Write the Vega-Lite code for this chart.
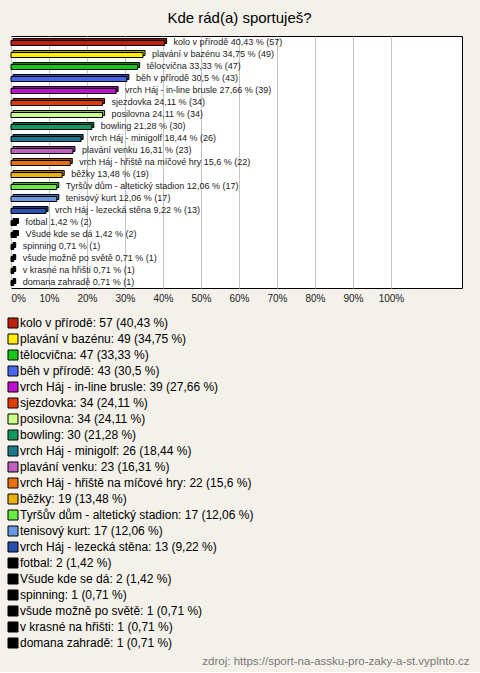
{
  "$schema": "https://vega.github.io/schema/vega-lite/v6.json",
  "background": "#f3f1ea",
  "padding": {"left": 7, "top": 10, "right": 18, "bottom": 4},
  "title": {"text": "zdroj: https://sport-na-assku-pro-zaky-a-st.vyplnto.cz", "orient": "bottom", "anchor": "end", "font": "Liberation Sans", "fontSize": 11.5, "fontWeight": "normal", "color": "#777777", "offset": 6, "dx": 7},
  "datasets": {
    "d": [
      {"name": "kolo v přírodě", "count": 57, "pct": 40.43, "label": "kolo v přírodě 40,43 % (57)", "legend": "kolo v přírodě: 57 (40,43 %)"},
      {"name": "plavání v bazénu", "count": 49, "pct": 34.75, "label": "plavání v bazénu 34,75 % (49)", "legend": "plavání v bazénu: 49 (34,75 %)"},
      {"name": "tělocvična", "count": 47, "pct": 33.33, "label": "tělocvična 33,33 % (47)", "legend": "tělocvična: 47 (33,33 %)"},
      {"name": "běh v přírodě", "count": 43, "pct": 30.5, "label": "běh v přírodě 30,5 % (43)", "legend": "běh v přírodě: 43 (30,5 %)"},
      {"name": "vrch Háj - in-line brusle", "count": 39, "pct": 27.66, "label": "vrch Háj - in-line brusle 27,66 % (39)", "legend": "vrch Háj - in-line brusle: 39 (27,66 %)"},
      {"name": "sjezdovka", "count": 34, "pct": 24.11, "label": "sjezdovka 24,11 % (34)", "legend": "sjezdovka: 34 (24,11 %)"},
      {"name": "posilovna", "count": 34, "pct": 24.11, "label": "posilovna 24,11 % (34)", "legend": "posilovna: 34 (24,11 %)"},
      {"name": "bowling", "count": 30, "pct": 21.28, "label": "bowling 21,28 % (30)", "legend": "bowling: 30 (21,28 %)"},
      {"name": "vrch Háj - minigolf", "count": 26, "pct": 18.44, "label": "vrch Háj - minigolf 18,44 % (26)", "legend": "vrch Háj - minigolf: 26 (18,44 %)"},
      {"name": "plavání venku", "count": 23, "pct": 16.31, "label": "plavání venku 16,31 % (23)", "legend": "plavání venku: 23 (16,31 %)"},
      {"name": "vrch Háj - hřiště na míčové hry", "count": 22, "pct": 15.6, "label": "vrch Háj - hřiště na míčové hry 15,6 % (22)", "legend": "vrch Háj - hřiště na míčové hry: 22 (15,6 %)"},
      {"name": "běžky", "count": 19, "pct": 13.48, "label": "běžky 13,48 % (19)", "legend": "běžky: 19 (13,48 %)"},
      {"name": "Tyršův dům - altetický stadion", "count": 17, "pct": 12.06, "label": "Tyršův dům - altetický stadion 12,06 % (17)", "legend": "Tyršův dům - altetický stadion: 17 (12,06 %)"},
      {"name": "tenisový kurt", "count": 17, "pct": 12.06, "label": "tenisový kurt 12,06 % (17)", "legend": "tenisový kurt: 17 (12,06 %)"},
      {"name": "vrch Háj - lezecká stěna", "count": 13, "pct": 9.22, "label": "vrch Háj - lezecká stěna 9,22 % (13)", "legend": "vrch Háj - lezecká stěna: 13 (9,22 %)"},
      {"name": "fotbal", "count": 2, "pct": 1.42, "label": "fotbal 1,42 % (2)", "legend": "fotbal: 2 (1,42 %)"},
      {"name": "Všude kde se dá", "count": 2, "pct": 1.42, "label": "Všude kde se dá 1,42 % (2)", "legend": "Všude kde se dá: 2 (1,42 %)"},
      {"name": "spinning", "count": 1, "pct": 0.71, "label": "spinning 0,71 % (1)", "legend": "spinning: 1 (0,71 %)"},
      {"name": "všude možně po světě", "count": 1, "pct": 0.71, "label": "všude možně po světě 0,71 % (1)", "legend": "všude možně po světě: 1 (0,71 %)"},
      {"name": "v krasné na hřišti", "count": 1, "pct": 0.71, "label": "v krasné na hřišti 0,71 % (1)", "legend": "v krasné na hřišti: 1 (0,71 %)"},
      {"name": "domana zahradě", "count": 1, "pct": 0.71, "label": "domana zahradě 0,71 % (1)", "legend": "domana zahradě: 1 (0,71 %)"}
    ]
  },
  "data": {"name": "d"},
  "vconcat": [
    {
      "title": {"text": "Kde rád(a) sportuješ?", "anchor": "middle", "font": "Liberation Sans", "fontSize": 15, "fontWeight": "normal", "color": "#000000", "offset": 10, "dx": 3},
      "width": 451,
      "height": 252,
      "encoding": {
        "y": {"field": "name", "type": "nominal", "sort": null, "axis": null, "scale": {"paddingInner": 0, "paddingOuter": 0}},
        "x": {"field": "pct", "type": "quantitative", "scale": {"domain": [0, 118.7], "nice": false, "zero": true},
          "axis": {"title": null, "values": [0, 10, 20, 30, 40, 50, 60, 70, 80, 90, 100], "labelExpr": "datum.value + '%'", "ticks": false, "domain": false, "grid": true, "gridColor": "#c4c4c4", "gridWidth": 1, "labelFont": "Liberation Sans", "labelFontSize": 10, "labelColor": "#222222", "labelPadding": 5, "labelFlush": true}}
      },
      "layer": [
        {
          "mark": {"type": "bar", "size": 5, "xOffset": 2, "x2Offset": 2, "yOffset": -1, "y2Offset": -1, "stroke": "black", "strokeWidth": 1, "opacity": 1},
          "encoding": {
            "color": {"field": "legend", "type": "nominal", "sort": null,
              "scale": {
                "domain": ["kolo v přírodě: 57 (40,43 %)", "plavání v bazénu: 49 (34,75 %)", "tělocvična: 47 (33,33 %)", "běh v přírodě: 43 (30,5 %)", "vrch Háj - in-line brusle: 39 (27,66 %)", "sjezdovka: 34 (24,11 %)", "posilovna: 34 (24,11 %)", "bowling: 30 (21,28 %)", "vrch Háj - minigolf: 26 (18,44 %)", "plavání venku: 23 (16,31 %)", "vrch Háj - hřiště na míčové hry: 22 (15,6 %)", "běžky: 19 (13,48 %)", "Tyršův dům - altetický stadion: 17 (12,06 %)", "tenisový kurt: 17 (12,06 %)", "vrch Háj - lezecká stěna: 13 (9,22 %)", "fotbal: 2 (1,42 %)", "Všude kde se dá: 2 (1,42 %)", "spinning: 1 (0,71 %)", "všude možně po světě: 1 (0,71 %)", "v krasné na hřišti: 1 (0,71 %)", "domana zahradě: 1 (0,71 %)"],
                "range": ["#c0200c", "#ffee00", "#14c814", "#4466ee", "#c010d0", "#e03c0a", "#ccff88", "#119960", "#1a7a8c", "#c060c0", "#e87010", "#e8b010", "#66ee44", "#6699e0", "#2850b0", "#000000", "#000000", "#000000", "#000000", "#000000", "#000000"]
              },
              "legend": {"orient": "none", "legendX": -4, "legendY": 281, "title": null, "symbolType": "square", "symbolSize": 100, "symbolStrokeColor": "black", "symbolStrokeWidth": 1, "symbolOpacity": 1, "labelFont": "Liberation Sans", "labelFontSize": 12, "labelColor": "#000000", "rowPadding": 2, "labelOffset": 1, "labelLimit": 0, "padding": 0, "direction": "vertical", "columns": 1}
            }
          }
        },
        {
          "mark": {"type": "bar", "size": 5, "xOffset": 2, "x2Offset": 2, "yOffset": -1, "y2Offset": -1, "fill": "black", "fillOpacity": 0.3, "strokeWidth": 0},
          "encoding": {}
        },
        {
          "mark": {"type": "bar", "size": 5, "yOffset": 1, "y2Offset": 1, "stroke": "black", "strokeWidth": 1, "opacity": 1},
          "encoding": {
            "color": {"field": "legend", "type": "nominal", "sort": null}
          }
        },
        {
          "mark": {"type": "text", "align": "left", "dx": 9, "baseline": "middle", "font": "Liberation Sans", "fontSize": 9, "color": "#222222"},
          "encoding": {"text": {"field": "label"}}
        }
      ]
    }
  ],
  "config": {
    "view": {"stroke": "black", "strokeWidth": 1, "fill": "white"},
    "concat": {"spacing": 0}
  }
}
